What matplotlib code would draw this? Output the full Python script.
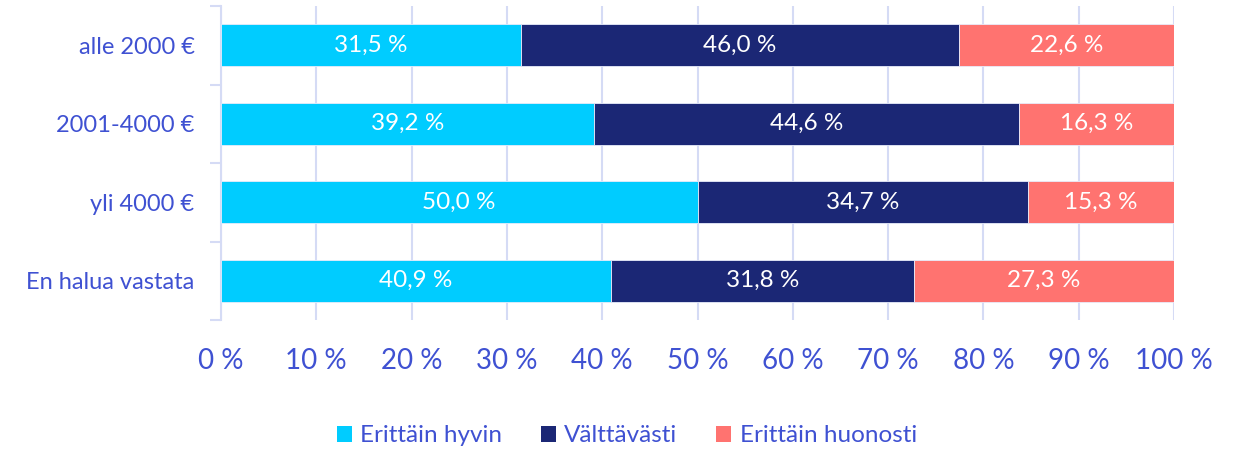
import numpy as np
import matplotlib
matplotlib.use('Agg')
import matplotlib.pyplot as plt
from matplotlib.patches import Patch

# data (percent of respondents per income group)
groups = ['alle 2000 €', '2001-4000 €', 'yli 4000 €', 'En halua vastata']
hyvin = [31.5, 39.2, 50.0, 40.9]
valttavasti = [46.0, 44.6, 34.7, 31.8]
huonosti = [22.6, 16.3, 15.3, 27.3]
series_names = ['Erittäin hyvin', 'Välttävästi', 'Erittäin huonosti']
xticks = [0, 10, 20, 30, 40, 50, 60, 70, 80, 90, 100]

colors = ['#00CCFF', '#1B2775', '#FF7370']
txt_col = '#3F51D2'
grid_col = '#D5DBF5'

plt.rcParams['font.family'] = ['Lato', 'DejaVu Sans']

fig = plt.figure(figsize=(12.4, 4.5), dpi=100)
ax = fig.add_axes([221/1240, 130/450, 953/1240, 314/450])

vals = np.array([hyvin, valttavasti, huonosti])
# 100 % stacked: scale every row to sum 100
shares = vals / vals.sum(axis=0) * 100
y = np.arange(len(groups))
left = np.zeros(len(groups))
for i in range(3):
    ax.barh(y, shares[i], left=left, height=0.54, color=colors[i],
            edgecolor='#E8ECFA', linewidth=0.6, zorder=3)
    for j in range(len(groups)):
        ax.text(left[j] + shares[i][j] / 2, y[j], f'{vals[i][j]:.1f} %'.replace('.', ','),
                ha='center', va='center', color='white', fontsize=17.5, zorder=4)
    left += shares[i]

ax.set_xlim(0, 100)
ax.set_ylim(len(groups) - 0.5, -0.5)
ax.set_xticks(xticks)
ax.set_xticklabels([f'{t} %' for t in xticks], fontsize=20, color=txt_col)
ax.tick_params(axis='x', length=0, pad=20)
ax.set_yticks(y)
ax.set_yticklabels(groups, fontsize=17, color=txt_col)
ax.tick_params(axis='y', which='major', length=0, pad=19)
ax.set_yticks(np.arange(len(groups) + 1) - 0.5, minor=True)
ax.tick_params(axis='y', which='minor', length=8, width=1.5, color=grid_col)

ax.xaxis.grid(True, color=grid_col, linewidth=1.5, zorder=0)
ax.set_axisbelow(True)
for s in ['top', 'right', 'bottom']:
    ax.spines[s].set_visible(False)
ax.spines['left'].set_color(grid_col)
ax.spines['left'].set_linewidth(1.5)

handles = [Patch(facecolor=c, label=n) for c, n in zip(colors, series_names)]
leg = fig.legend(handles=handles, loc='center', bbox_to_anchor=(627/1240, 1 - 436/450),
                 ncol=3, frameon=False, fontsize=17.5, handlelength=0.6, handleheight=0.6,
                 handletextpad=0.35, columnspacing=1.6)
for t in leg.get_texts():
    t.set_color(txt_col)

fig.savefig('out.png', dpi=100)
